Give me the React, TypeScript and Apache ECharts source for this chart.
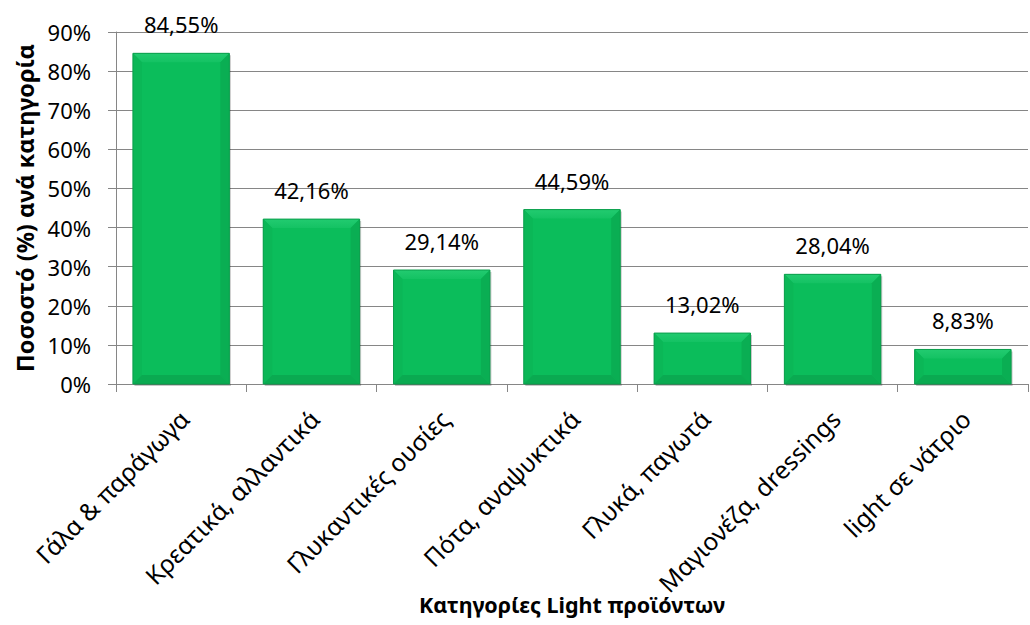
import React, { useEffect, useRef } from "react";
import * as echarts from "echarts";

const categories = [
  "Γάλα & παράγωγα",
  "Κρεατικά, αλλαντικά",
  "Γλυκαντικές ουσίες",
  "Πότα, αναψυκτικά",
  "Γλυκά, παγωτά",
  "Μαγιονέζα, dressings",
  "light σε νάτριο",
];
const values = [84.55, 42.16, 29.14, 44.59, 13.02, 28.04, 8.83];
const yTicks = [0, 10, 20, 30, 40, 50, 60, 70, 80, 90];

const FONT = "'Noto Sans', 'DejaVu Sans', sans-serif";
const fmt = (v: number) => v.toFixed(2).replace(".", ",") + "%";

export default function App() {
  const ref = useRef<HTMLDivElement>(null);

  useEffect(() => {
    if (!ref.current) return;
    const chart = echarts.init(ref.current, null, { renderer: "svg" });

    // Bevelled bar: flat face with lighter top edge and slightly darker sides/bottom
    const renderBar = (params: any, api: any) => {
      const idx = api.value(0);
      const val = api.value(1);
      const top = api.coord([idx, val]);
      const base = api.coord([idx, 0]);
      const w = api.size([1, 0])[0] * 0.74;
      const x0 = top[0] - w / 2;
      const x1 = top[0] + w / 2;
      const y0 = top[1];
      const y1 = base[1];
      const h = y1 - y0;
      const b = Math.min(9, h / 2.2);
      return {
        type: "group",
        children: [
          {
            type: "rect",
            shape: { x: x0 + 1.5, y: y0 + 2, width: w, height: h },
            style: { fill: "rgba(0,0,0,0.22)" },
          },
          {
            type: "rect",
            shape: { x: x0, y: y0, width: w, height: h },
            style: { fill: "#0BBD5B" },
          },
          {
            type: "polygon",
            shape: { points: [[x0, y0], [x1, y0], [x1 - b, y0 + b], [x0 + b, y0 + b]] },
            style: {
              fill: new echarts.graphic.LinearGradient(0, 0, 0, 1, [
                { offset: 0, color: "#22CB70" },
                { offset: 1, color: "#14C263" },
              ]),
            },
          },
          {
            type: "polygon",
            shape: { points: [[x0, y0], [x0 + b, y0 + b], [x0 + b, y1 - b], [x0, y1]] },
            style: { fill: "#0BB757" },
          },
          {
            type: "polygon",
            shape: { points: [[x1, y0], [x1, y1], [x1 - b, y1 - b], [x1 - b, y0 + b]] },
            style: { fill: "#0AAE53" },
          },
          {
            type: "polygon",
            shape: { points: [[x0, y1], [x0 + b, y1 - b], [x1 - b, y1 - b], [x1, y1]] },
            style: { fill: "#0AAA51" },
          },
          {
            type: "rect",
            shape: { x: x0, y: y0, width: w, height: h },
            style: { fill: "none", stroke: "#0B9E4C", lineWidth: 1 },
          },
          {
            type: "text",
            x: top[0],
            y: y0 - 18,
            style: {
              text: fmt(val),
              font: `22px ${FONT}`,
              fill: "#000",
              align: "center",
              verticalAlign: "bottom",
            },
          },
        ],
      };
    };

    chart.setOption({
      animation: false,
      backgroundColor: "#fff",
      grid: {
        left: 116,
        right: 2,
        top: 32,
        bottom: 241,
        containLabel: false,
        outerBoundsMode: "none",
      },
      xAxis: {
        type: "category",
        data: categories,
        name: "Κατηγορίες Light προϊόντων",
        nameLocation: "middle",
        nameGap: 209,
        nameMoveOverlap: false,
        nameTextStyle: { fontFamily: FONT, fontSize: 21.5, fontWeight: "bold", color: "#000" },
        axisLine: { show: true, lineStyle: { color: "#868686", width: 1 } },
        axisTick: { show: true, length: 8, alignWithLabel: false, lineStyle: { color: "#868686" } },
        axisLabel: {
          interval: 0,
          rotate: 45,
          margin: 16,
          verticalAlign: "top",
          padding: [0, 8, 0, 0],
          fontFamily: FONT,
          fontSize: 24.5,
          color: "#000",
        },
        splitLine: { show: false },
      },
      yAxis: {
        type: "value",
        min: yTicks[0],
        max: yTicks[yTicks.length - 1],
        interval: 10,
        name: "Ποσοστό (%) ανά κατηγορία",
        nameLocation: "middle",
        nameGap: 79,
        nameMoveOverlap: false,
        nameRotate: 90,
        nameTextStyle: { fontFamily: FONT, fontSize: 23.5, fontWeight: "bold", color: "#000" },
        axisLine: { show: true, lineStyle: { color: "#868686", width: 1 } },
        axisTick: { show: true, length: 8, lineStyle: { color: "#868686" } },
        axisLabel: {
          formatter: "{value}%",
          margin: 25,
          fontFamily: FONT,
          fontSize: 22,
          color: "#000",
        },
        splitLine: { show: true, lineStyle: { color: "#868686", width: 1 } },
      },
      series: [
        {
          type: "custom",
          renderItem: renderBar,
          data: values.map((v, i) => [i, v]),
          encode: { x: 0, y: 1 },
          clip: false,
        },
      ],
    });

    return () => chart.dispose();
  }, []);

  return <div ref={ref} style={{ width: 1030, height: 625, position: "absolute", left: 0, top: 0 }} />;
}
